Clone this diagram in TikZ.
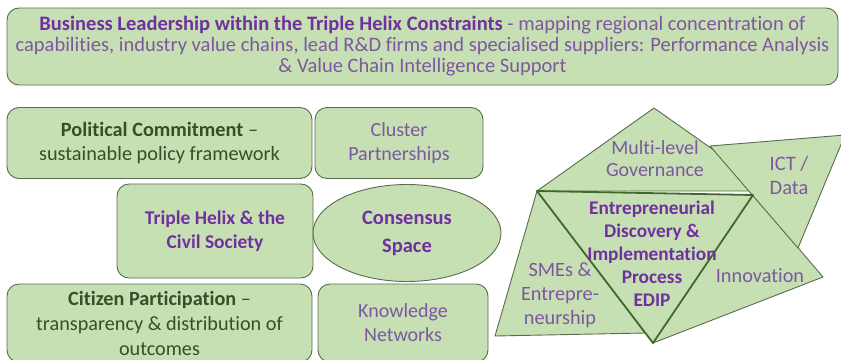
\documentclass[tikz,border=0pt]{standalone}
\usepackage{fontspec}
\setmainfont{Carlito}[Ligatures={NoCommon}]
\usetikzlibrary{shapes.geometric}
\definecolor{boxfill}{HTML}{C6E0B4}
\definecolor{boxline}{HTML}{5A6B50}
\definecolor{edgeline}{HTML}{3F6A2C}
\definecolor{boldpurple}{HTML}{7030A0}
\definecolor{lightpurple}{HTML}{7E57A0}
\definecolor{darkgreen}{HTML}{34502A}
\tikzset{
	box/.style={draw=boxline, fill=boxfill, rounded corners=12pt, line width=0.9pt,
			inner sep=0pt, align=center, text=lightpurple},
	facet/.style={draw=boxline, fill=boxfill, line width=0.9pt, line join=round},
	label/.style={align=center, text=lightpurple, inner sep=0pt}
}

\begin{document}
\begin{tikzpicture}[x=1pt, y=-1pt]
			\useasboundingbox (0,0) rectangle (841,359);

			% Draw the top box
			\node[box, minimum width=831, minimum height=77, font=\fontsize{20.5}{21}\selectfont] (business) at (422.5,46.5)
			{\textbf{\color{boldpurple}Business Leadership within the Triple Helix Constraints} - mapping regional concentration of\\
			capabilities, industry value chains, lead R\&D firms and specialised suppliers: Performance Analysis\\
			\& Value Chain Intelligence Support};

			% Draw the left boxes
			\node[box, minimum width=305, minimum height=71, text=darkgreen, font=\fontsize{20.3}{24}\selectfont] (political) at (159.5,143)
			{\textbf{Political Commitment} --\\ sustainable policy framework};
			\node[box, minimum width=168, minimum height=71, font=\fontsize{20}{24}\selectfont] (cluster) at (399,143)
			{Cluster\\ Partnerships};
			\node[box, minimum width=196, minimum height=94, text=boldpurple, font=\fontsize{19.5}{24}\selectfont\bfseries] (helix) at (215,231)
			{Triple Helix \& the\\ Civil Society};
			\node[ellipse, draw=boxline, fill=boxfill, line width=0.9pt, inner sep=0pt,
				minimum width=188, minimum height=97, align=center, text=boldpurple,
				font=\fontsize{20.5}{28}\selectfont\bfseries] (consensus) at (407,233)
			{Consensus\\ Space};
			\node[box, minimum width=305, minimum height=78, text=darkgreen, font=\fontsize{20.2}{25}\selectfont] (citizen) at (159.5,323)
			{\textbf{Citizen Participation} --\\ transparency \& distribution of\\ outcomes};
			\node[box, minimum width=170, minimum height=78, font=\fontsize{20}{24}\selectfont] (knowledge) at (403,323)
			{Knowledge\\ Networks};

			% Corners of the facets
			\coordinate (apex) at (654,108);
			\coordinate (tl) at (537,191);
			\coordinate (tr) at (772,191);
			\coordinate (cr) at (753,195);
			\coordinate (bottom) at (653,343);
			\coordinate (smeleft) at (495,336);
			\coordinate (smeright) at (645,333);
			\coordinate (ictleft) at (710,146);
			\coordinate (ictright) at (845,135);
			\coordinate (ictbottom) at (798,248);
			\coordinate (innright) at (823,277);

			% Draw the facets
			\draw[facet] (tl) -- (smeleft) -- (smeright) -- cycle;
			\draw[facet] (cr) -- (innright) -- (bottom) -- cycle;
			\draw[facet] (tl) -- (apex) -- (tr) -- cycle;
			\draw[facet] (ictleft) -- (ictright) -- (ictbottom) -- cycle;
			\draw[facet, draw=edgeline, line width=1.8pt] (tl) -- (cr) -- (bottom) -- cycle;

			% Labels of the facets
			\node[label, font=\fontsize{20}{22}\selectfont] (governance) at (655,159) {Multi-level\\ Governance};
			\node[label, font=\fontsize{20.5}{24}\selectfont] (ict) at (789,175) {ICT /\\ Data};
			\node[label, font=\fontsize{20.3}{22}\selectfont] (innovation) at (760,276) {Innovation};
			\node[label, font=\fontsize{20.3}{24}\selectfont] (smes) at (560,295) {SMEs \&\\ Entrepre-\\ neurship};
			\node[label, text=boldpurple, font=\fontsize{19.3}{23}\selectfont\bfseries] (edip) at (652,254)
			{Entrepreneurial\\ Discovery \&\\ Implementation\\ Process\\ EDIP};
		\end{tikzpicture}
\end{document}
